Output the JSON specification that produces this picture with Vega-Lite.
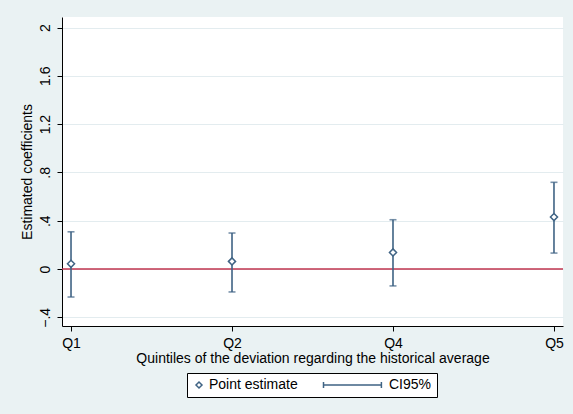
{
  "$schema": "https://vega.github.io/schema/vega-lite/v6.json",
  "width": 501,
  "height": 309,
  "autosize": "none",
  "padding": {"left": 62, "top": 17, "right": 10, "bottom": 88},
  "background": "#EAF2F3",
  "view": {"fill": "white", "stroke": null},
  "config": {
    "font": "Liberation Sans",
    "axis": {
      "labelFont": "Liberation Sans",
      "titleFont": "Liberation Sans",
      "labelFontSize": 14,
      "titleFontSize": 14,
      "titleFontWeight": "normal",
      "labelColor": "black",
      "titleColor": "black",
      "tickColor": "black",
      "domainColor": "black",
      "tickSize": 5,
      "labelOverlap": false
    }
  },
  "data": {
    "values": [
      {"q": "Q1", "est": 0.043, "lo": -0.232, "hi": 0.308},
      {"q": "Q2", "est": 0.063, "lo": -0.19, "hi": 0.298},
      {"q": "Q4", "est": 0.137, "lo": -0.14, "hi": 0.408},
      {"q": "Q5", "est": 0.43, "lo": 0.132, "hi": 0.718}
    ]
  },
  "layer": [
    {
      "data": {"values": [{"ref": 0}]},
      "mark": {"type": "rule", "color": "#c0354f", "strokeWidth": 1.5},
      "encoding": {"y": {"field": "ref", "type": "quantitative"}}
    },
    {
      "mark": {"type": "rule", "color": "#3f6384", "strokeWidth": 1.6},
      "encoding": {
        "x": {
          "field": "q", "type": "nominal",
          "scale": {"type": "point", "domain": ["Q1", "Q2", "Q4", "Q5"], "padding": 0.056},
          "axis": {
            "title": "Quintiles of the deviation regarding the historical average",
            "labelAngle": 0,
            "labelPadding": 5,
            "titlePadding": 1,
            "grid": false
          }
        },
        "y": {
          "field": "lo", "type": "quantitative",
          "scale": {"domain": [-0.472, 2.087], "nice": false, "zero": false},
          "axis": {
            "title": "Estimated coefficients",
            "values": [-0.4, 0, 0.4, 0.8, 1.2, 1.6, 2],
            "labelExpr": "replace(format(datum.value, '.1~f'), '0.', '.')",
            "labelAngle": 270,
            "labelAlign": "center",
            "labelBaseline": "bottom",
            "labelPadding": 5,
            "titlePadding": 4,
            "grid": true,
            "gridColor": "#E3ECEF",
            "gridWidth": 1
          }
        },
        "y2": {"field": "hi"}
      }
    },
    {
      "mark": {"type": "tick", "color": "#3f6384", "size": 7, "thickness": 1.6, "orient": "horizontal"},
      "encoding": {
        "x": {"field": "q", "type": "nominal"},
        "y": {"field": "lo", "type": "quantitative"}
      }
    },
    {
      "mark": {"type": "tick", "color": "#3f6384", "size": 7, "thickness": 1.6, "orient": "horizontal"},
      "encoding": {
        "x": {"field": "q", "type": "nominal"},
        "y": {"field": "hi", "type": "quantitative"}
      }
    },
    {
      "mark": {"type": "point", "filled": true, "fill": "white", "stroke": "#3f6384", "strokeWidth": 1.5, "size": 50, "opacity": 1},
      "encoding": {
        "x": {"field": "q", "type": "nominal"},
        "y": {"field": "est", "type": "quantitative"},
        "shape": {
          "datum": "Point estimate",
          "scale": {
            "domain": ["Point estimate", "CI95%"],
            "range": ["diamond", "M-18.5,0H0.8M-18.5,-1V1M0.8,-1V1"]
          },
          "legend": {
            "orient": "none",
            "legendX": 125,
            "legendY": 356,
            "direction": "horizontal",
            "title": null,
            "symbolSize": 36,
            "symbolOffset": 0,
            "labelFont": "Liberation Sans",
            "labelFontSize": 14,
            "labelColor": "black",
            "labelOffset": 3,
            "columnPadding": 22,
            "padding": 5,
            "strokeColor": "black",
            "fillColor": "white",
            "encode": {
              "symbols": {
                "update": {
                  "stroke": {"value": "#3f6384"},
                  "fill": {"value": "white"},
                  "strokeWidth": {"value": 1.3},
                  "opacity": {"value": 1}
                }
              }
            }
          }
        }
      }
    }
  ]
}
